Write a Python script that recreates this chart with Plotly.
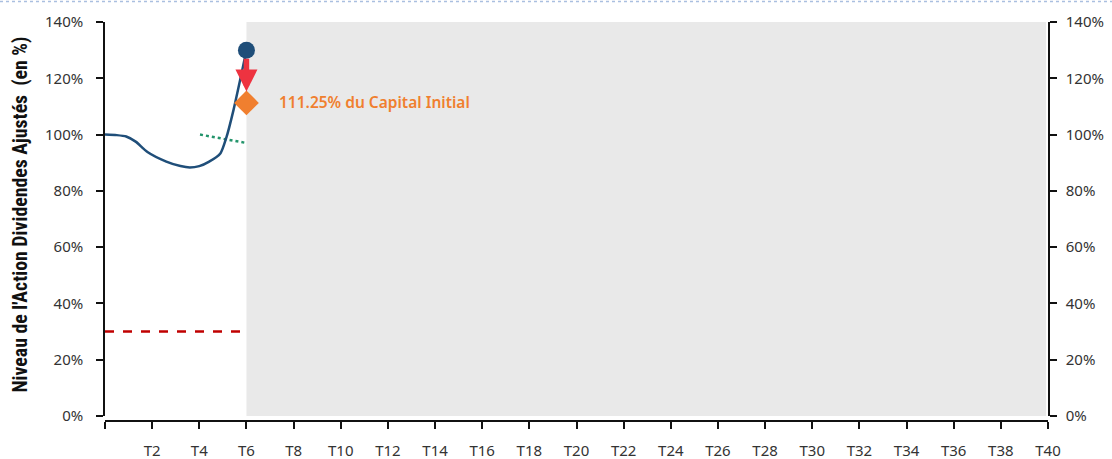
import plotly.graph_objects as go

# ---- data ----
stock_t = [0, 0.5, 0.9, 1.3, 1.8, 2.6, 3.2, 3.6, 4.0, 4.4, 4.9, 5.15, 5.45, 5.85, 6.0]
stock_v = [100, 99.8, 99.3, 97.5, 93.8, 90.4, 88.8, 88.3, 88.8, 90.3, 93.4, 99, 108.7, 124, 130]
trigger_t = [4.03, 6.0]
trigger_v = [100, 97]
barrier_t = [0, 6]
barrier_v = [30, 30]
final_t = [6]
final_stock = [130]
capital_v = [111.25]
x_tickvals = list(range(0, 41, 2))
x_ticktext = [""] + [f"T{i}" for i in range(2, 41, 2)]
y_tickvals = list(range(0, 141, 20))
y_ticktext = [f"{v}%" for v in y_tickvals]
shade_start, shade_end = 6, 39.92

W, H = 1112, 459
ml, mr, mt, mb = 105, 64, 22, 38
plot_w = W - ml - mr
plot_h = H - mt - mb

tickfont = dict(family="Noto Sans, Open Sans, sans-serif", size=15, color="#333333")

fig = go.Figure()

fig.add_shape(type="rect", xref="x", yref="y", x0=shade_start, x1=shade_end, y0=0, y1=140,
              fillcolor="#e9e9e9", line_width=0, layer="below")

fig.add_trace(go.Scatter(x=barrier_t, y=barrier_v, mode="lines",
                         line=dict(color="#c00000", width=2.5, dash="dash"),
                         showlegend=False, hoverinfo="skip"))
fig.add_trace(go.Scatter(x=trigger_t, y=trigger_v, mode="lines",
                         line=dict(color="#23946b", width=2.5, dash="dot"),
                         showlegend=False, hoverinfo="skip"))
fig.add_trace(go.Scatter(x=stock_t, y=stock_v, mode="lines",
                         line=dict(color="#1f4e79", width=2.5, shape="spline", smoothing=0.6),
                         showlegend=False, hoverinfo="skip"))
fig.add_trace(go.Scatter(x=final_t, y=capital_v, mode="markers",
                         marker=dict(symbol="diamond", size=19, color="#f07f2f"),
                         showlegend=False, hoverinfo="skip"))
fig.add_trace(go.Scatter(x=final_t, y=final_stock, mode="markers",
                         marker=dict(symbol="circle", size=17, color="#1f4e79"),
                         showlegend=False, hoverinfo="skip"))
# invisible trace for right axis
fig.add_trace(go.Scatter(x=[0], y=[0], yaxis="y2", mode="markers",
                         marker=dict(opacity=0), showlegend=False, hoverinfo="skip"))

# red arrow
fig.add_annotation(x=6, y=115.3, ax=6, ay=127.5, xref="x", yref="y", axref="x", ayref="y",
                   showarrow=True, arrowhead=2, arrowsize=0.8, arrowwidth=5.5,
                   arrowcolor="#ee3340", text="")

fig.add_annotation(x=7.3, y=capital_v[0] + 0.5, xref="x", yref="y", xanchor="left", yanchor="middle",
                   text="111.25% du Capital Initial", showarrow=False,
                   font=dict(family="Noto Sans, Open Sans, sans-serif", size=15.5, color="#f07f2f", weight=600))

fig.add_annotation(x=(20 - ml) / plot_w, y=(H - mb - 214.5) / plot_h, xref="paper", yref="paper",
                   text="Niveau de l'Action Dividendes Ajustés  (en %)", textangle=-90,
                   showarrow=False, xanchor="center", yanchor="middle",
                   font=dict(family="Liberation Sans Narrow, Roboto Condensed, Noto Sans", size=19.8,
                             color="#111111", weight="bold"))

# top dotted border
fig.add_shape(type="line", xref="paper", yref="paper",
              x0=-ml / plot_w, x1=1 + mr / plot_w,
              y0=1 + (mt - 1.5) / plot_h, y1=1 + (mt - 1.5) / plot_h,
              line=dict(color="#aabfe0", width=1.5, dash="dot"))

ydom0 = 5 / plot_h
axis_common = dict(showgrid=False, zeroline=False, showline=True, linecolor="#111111", linewidth=1.5,
                   ticks="outside", ticklen=7, tickwidth=1.5, tickcolor="#111111",
                   tickfont=tickfont, automargin=False)
fig.update_layout(
    width=W, height=H,
    margin=dict(l=ml, r=mr, t=mt, b=mb, autoexpand=False),
    plot_bgcolor="white", paper_bgcolor="white",
    xaxis=dict(range=[0, 40], tickvals=x_tickvals, ticktext=x_ticktext,
               anchor="free", position=0, ticklabelstandoff=9, **axis_common),
    yaxis=dict(range=[0, 140], domain=[ydom0, 1], tickvals=y_tickvals, ticktext=y_ticktext,
               ticklabelstandoff=10, **axis_common),
    yaxis2=dict(range=[0, 140], domain=[ydom0, 1], tickvals=y_tickvals, ticktext=y_ticktext,
                overlaying="y", side="right", anchor="x", ticklabelstandoff=6, **axis_common),
)

fig.write_html("out.html", config={"displayModeBar": False},
               post_script="document.body.style.margin='0';document.body.style.overflow='hidden';")
